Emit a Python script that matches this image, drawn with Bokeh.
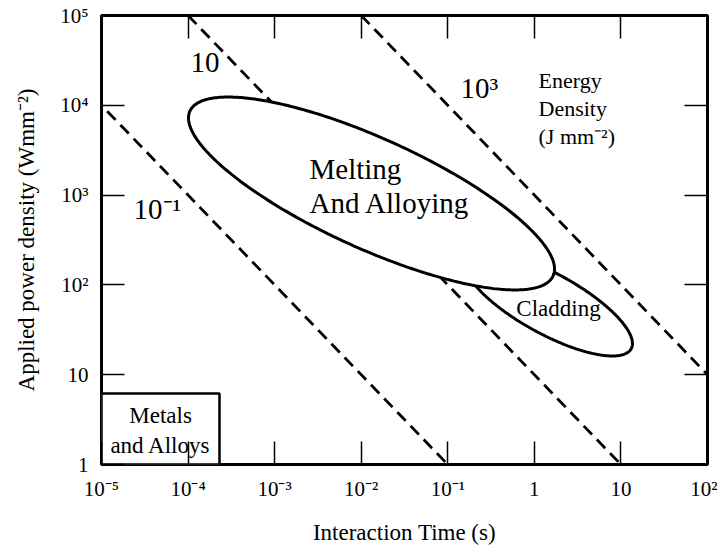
import numpy as np
from bokeh.plotting import figure
from bokeh.models import (LogAxis, FixedTicker, CustomJSTickFormatter, BoxAnnotation,
                          Label, ColumnDataSource, Range1d)
from bokeh.core.properties import value
from bokeh.embed import file_html
from bokeh.resources import INLINE

# ---------------- data ----------------
time_ticks = [1e-5, 1e-4, 1e-3, 1e-2, 1e-1, 1, 10, 100]
time_tick_labels = ["10⁻⁵", "10⁻⁴", "10⁻³", "10⁻²", "10⁻¹", "1", "10", "10²"]
power_ticks = [1, 10, 100, 1e3, 1e4, 1e5]
power_tick_labels = ["1", "10", "10²", "10³", "10⁴", "10⁵"]

energy_densities = [0.1, 10, 1000]          # J mm^-2  (P * t = E)
energy_labels = ["10⁻¹", "10", "10³"]

# process regions: ellipses in log-log space
region_names = ["Melting\nAnd Alloying", "Cladding"]
region_center_logt = [-1.881, 0.163]
region_center_logp = [3.018, 1.793]
region_semi_dlogt = [2.114, 0.970]     # conjugate semi-diameter (time direction)
region_semi_dlogp = [-0.841, -0.445]
region_semi_vert = [0.668, 0.379]      # conjugate semi-diameter (vertical)

metals_box_time = [1e-5, 10 ** -3.637]
metals_box_power = [1, 10 ** 0.791]

FONT = "Liberation Serif"

p = figure(x_axis_type="log", y_axis_type="log",
           x_range=Range1d(1e-5, 1e2), y_range=Range1d(1, 1e5),
           frame_width=606, frame_height=449,
           min_border_left=101, min_border_right=10, min_border_top=15, min_border_bottom=80,
           output_backend="svg", toolbar_location=None,
           background_fill_color="white", border_fill_color="white")

p.xgrid.visible = False
p.ygrid.visible = False
p.outline_line_color = "black"
p.outline_line_width = 3

def style_axis(ax, ticks, labels):
    ax.ticker = FixedTicker(ticks=ticks)
    ax.major_label_overrides = dict(zip(ticks, labels))
    ax.axis_line_color = None
    ax.major_tick_in = 23
    ax.major_tick_out = 0
    ax.major_tick_line_width = 1.5
    ax.major_tick_line_color = "black"
    ax.minor_tick_line_color = None
    ax.major_label_text_font = FONT
    ax.major_label_text_font_size = "21px"
    ax.major_label_text_color = "black"
    ax.axis_label_text_font = FONT
    ax.axis_label_text_font_size = "23px"
    ax.axis_label_text_font_style = "normal"
    ax.axis_label_text_color = "black"

xa = p.xaxis[0]
style_axis(xa, time_ticks, time_tick_labels)
xa.axis_label = "Interaction Time (s)"
xa.major_label_standoff = 12
xa.axis_label_standoff = 16

ya = p.yaxis[0]
style_axis(ya, power_ticks, power_tick_labels)
ya.axis_label = "Applied power density (Wmm⁻²)"
ya.major_label_standoff = 13
ya.axis_label_standoff = 18

for loc, ticks in (("above", time_ticks), ("right", power_ticks)):
    ax = LogAxis(ticker=FixedTicker(ticks=ticks),
                 formatter=CustomJSTickFormatter(code="return ''"),
                 axis_line_color=None, major_tick_in=23, major_tick_out=0,
                 major_tick_line_width=1.5, minor_tick_line_color=None,
                 major_label_standoff=0, major_label_text_font_size="0px")
    p.add_layout(ax, loc)

# Metals and Alloys box (underlay, ticks drawn above it)
box = BoxAnnotation(left=metals_box_time[0], right=metals_box_time[1],
                    bottom=metals_box_power[0], top=metals_box_power[1],
                    fill_color="white", fill_alpha=1, line_color="black",
                    line_alpha=1, line_width=2.5, level="underlay")
p.add_layout(box)
p.add_layout(Label(x=10 ** -4.318, y=10 ** 0.69, text="Metals\nand Alloys",
                   text_font=FONT, text_font_size="23px", text_align="center",
                   text_color="black", text_baseline="top", text_line_height=1.2,
                   level="underlay"))

# ellipse outlines
s = np.linspace(0, 2 * np.pi, 400)
def ellipse(i):
    lt = region_center_logt[i] + region_semi_dlogt[i] * np.cos(s)
    lp = region_center_logp[i] + region_semi_dlogp[i] * np.cos(s) + region_semi_vert[i] * np.sin(s)
    return 10 ** lt, 10 ** lp

cx, cy = ellipse(1)
p.line(cx, cy, line_color="black", line_width=3)

# constant energy density lines
for E in energy_densities:
    t = np.array([E / 1e5, E / 1.0])
    p.line(t, E / t, line_color="black", line_width=2.8, line_dash="12 7")

mx, my = ellipse(0)
p.patch(mx, my, fill_color="white", line_color="black", line_width=3)

# energy labels
lab_src = ColumnDataSource(dict(
    t=[10 ** -4.630, 10 ** -3.972, 10 ** -0.853],
    P=[10 ** 2.850, 10 ** 4.476, 10 ** 4.198],
    text=energy_labels))
p.text(x="t", y="P", text="text", source=lab_src, text_font=value(FONT),
       text_font_size="29px", text_align="left", text_baseline="alphabetic", text_color="black")

p.text(x=[10 ** 0.048], y=[10 ** 4.42], text=["Energy\nDensity\n(J mm⁻²)"],
       text_font=value(FONT), text_font_size="22px", text_align="left",
       text_baseline="top", text_line_height=1.12, text_color="black")

p.text(x=[10 ** -2.597], y=[10 ** 3.474], text=[region_names[0]],
       text_font=value(FONT), text_font_size="29px", text_align="left",
       text_baseline="top", text_line_height=1.07, text_color="black")

p.text(x=[10 ** 0.279], y=[10 ** 1.737], text=[region_names[1]],
       text_font=value(FONT), text_font_size="23px", text_align="center",
       text_baseline="alphabetic", text_color="black")

open("out.html", "w").write(file_html(p, INLINE))
